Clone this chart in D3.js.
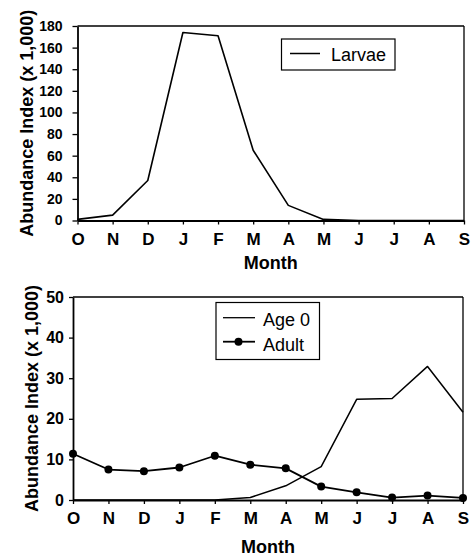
<!DOCTYPE html>
<html>
<head>
<meta charset="utf-8">
<script src="https://cdn.jsdelivr.net/npm/d3@7"></script>
<style>
  html, body { margin: 0; padding: 0; background: #fff; }
  svg { display: block; }
  text { font-family: "Liberation Sans", Arial, Helvetica, sans-serif; fill: #000; }
</style>
</head>
<body>
<svg id="chart" width="475" height="556"></svg>
<script>
// ---- data ----
const months = ["O", "N", "D", "J", "F", "M", "A", "M", "J", "J", "A", "S"];
const larvae = [1, 5, 37, 174, 171, 65, 14, 1, 0, 0, 0, 0];
const age0   = [0, 0, 0, 0, 0, 0.6, 3.5, 8.2, 24.8, 25.0, 32.9, 21.6];
const adult  = [11.4, 7.5, 7.1, 8.0, 10.9, 8.7, 7.8, 3.3, 1.9, 0.6, 1.1, 0.5];
const topYTicks = [0, 20, 40, 60, 80, 100, 120, 140, 160, 180];
const bottomYTicks = [0, 10, 20, 30, 40, 50];
const yTitle = "Abundance Index (x 1,000)";
const xTitle = "Month";

const svg = d3.select("#chart");
const idx = months.map((m, i) => i);

function panel(cfg) {
  const g = svg.append("g");
  const x = d3.scaleLinear().domain([0, months.length - 1]).range([cfg.left, cfg.right]);
  const y = d3.scaleLinear().domain([0, cfg.ymax]).range([cfg.bottom, cfg.top]);

  // frame: top and right
  g.append("line").attr("x1", cfg.left).attr("x2", cfg.right).attr("y1", cfg.top).attr("y2", cfg.top)
    .attr("stroke", "#000").attr("stroke-width", 1.3);
  g.append("line").attr("x1", cfg.right).attr("x2", cfg.right).attr("y1", cfg.top).attr("y2", cfg.bottom)
    .attr("stroke", "#000").attr("stroke-width", 1.3);

  // y axis
  const ya = g.append("g").attr("transform", `translate(${cfg.left},0)`)
    .call(d3.axisLeft(y).tickValues(cfg.yticks).tickSize(cfg.ytickSize).tickPadding(cfg.ytickPad).tickSizeOuter(0));
  ya.select(".domain").attr("stroke-width", 1.8);
  ya.selectAll(".tick line").attr("stroke-width", 1.3);
  ya.selectAll("text").style("font-size", cfg.yfont + "px").style("font-weight", "bold")
    .attr("font-family", null);

  // x axis
  const xa = g.append("g").attr("transform", `translate(0,${cfg.bottom})`)
    .call(d3.axisBottom(x).tickValues(idx).tickFormat(i => months[i]).tickSize(4).tickPadding(8).tickSizeOuter(0));
  xa.select(".domain").attr("stroke-width", 1.8);
  xa.selectAll(".tick line").attr("stroke-width", 1.3);
  xa.selectAll("text").style("font-size", cfg.xfont + "px").style("font-weight", "bold")
    .attr("font-family", null);

  // titles
  g.append("text").attr("x", (cfg.left + cfg.right) / 2).attr("y", cfg.xTitleY)
    .attr("text-anchor", "middle").style("font-size", "18px").style("font-weight", "bold")
    .text(xTitle);
  g.append("text").attr("transform", `translate(${cfg.yTitleX},${(cfg.top + cfg.bottom) / 2}) rotate(-90)`)
    .attr("text-anchor", "middle").style("font-size", "18px").style("font-weight", "bold")
    .text(yTitle);

  return { g, x, y };
}

// ---- top panel ----
const p1 = panel({ left: 77.5, right: 464, top: 26, bottom: 220.5, ymax: 180, yticks: topYTicks,
  ytickSize: 5, ytickPad: 10, yfont: 14, xfont: 17, xTitleY: 269, yTitleX: 33 });
const line1 = d3.line().x((d, i) => p1.x(i)).y(d => p1.y(d));
p1.g.append("path").datum(larvae).attr("d", line1).attr("fill", "none")
  .attr("stroke", "#000").attr("stroke-width", 1.6).attr("stroke-linejoin", "round");

// legend top
const lg1 = p1.g.append("g");
lg1.append("rect").attr("x", 281.5).attr("y", 39).attr("width", 113.5).attr("height", 31)
  .attr("fill", "#fff").attr("stroke", "#000").attr("stroke-width", 1.2);
lg1.append("line").attr("x1", 290).attr("x2", 320).attr("y1", 53.5).attr("y2", 53.5)
  .attr("stroke", "#000").attr("stroke-width", 1.5);
lg1.append("text").attr("x", 331).attr("y", 60.5).style("font-size", "18px").text("Larvae");

// ---- bottom panel ----
const p2 = panel({ left: 73, right: 463, top: 297, bottom: 500, ymax: 50, yticks: bottomYTicks,
  ytickSize: 4, ytickPad: 5, yfont: 16, xfont: 17, xTitleY: 553, yTitleX: 38 });
const line2 = d3.line().x((d, i) => p2.x(i)).y(d => p2.y(d));
p2.g.append("path").datum(age0).attr("d", line2).attr("fill", "none")
  .attr("stroke", "#000").attr("stroke-width", 1.5).attr("stroke-linejoin", "round");
p2.g.append("path").datum(adult).attr("d", line2).attr("fill", "none")
  .attr("stroke", "#000").attr("stroke-width", 1.8).attr("stroke-linejoin", "round");
p2.g.selectAll("circle.adult").data(adult).join("circle").attr("class", "adult")
  .attr("cx", (d, i) => p2.x(i)).attr("cy", d => p2.y(d)).attr("r", 4).attr("fill", "#000");

// legend bottom
const lg2 = p2.g.append("g");
lg2.append("rect").attr("x", 216).attr("y", 302.5).attr("width", 103.5).attr("height", 57)
  .attr("fill", "#fff").attr("stroke", "#000").attr("stroke-width", 1.2);
lg2.append("line").attr("x1", 223).attr("x2", 255).attr("y1", 317.7).attr("y2", 317.7)
  .attr("stroke", "#000").attr("stroke-width", 1.3);
lg2.append("text").attr("x", 263).attr("y", 326).style("font-size", "18px").text("Age 0");
lg2.append("line").attr("x1", 223).attr("x2", 255).attr("y1", 341.7).attr("y2", 341.7)
  .attr("stroke", "#000").attr("stroke-width", 1.8);
lg2.append("circle").attr("cx", 238.5).attr("cy", 341.7).attr("r", 4).attr("fill", "#000");
lg2.append("text").attr("x", 263).attr("y", 350.5).style("font-size", "18px").text("Adult");
</script>
</body>
</html>
